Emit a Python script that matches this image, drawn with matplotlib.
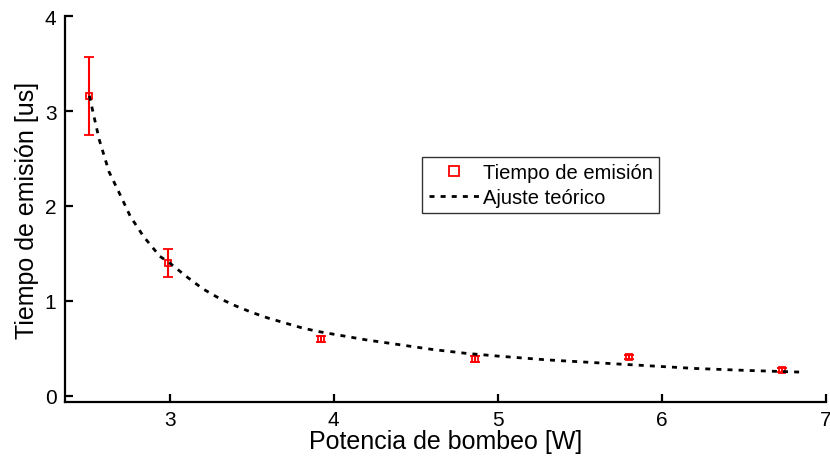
import matplotlib
matplotlib.use("Agg")
import matplotlib.pyplot as plt
from matplotlib.lines import Line2D

plt.rcParams["font.family"] = ["Liberation Sans", "DejaVu Sans"]

# measured points
potencia = [2.51, 2.99, 3.92, 4.86, 5.80, 6.73]
tiempo = [3.16, 1.40, 0.60, 0.39, 0.41, 0.27]
error = [0.41, 0.15, 0.03, 0.03, 0.02, 0.02]

# theoretical fit
ajuste_x = [2.51, 2.57, 2.63, 2.70, 2.76, 2.84, 2.94, 3.00, 3.10, 3.20,
            3.30, 3.40, 3.50, 3.60, 3.70, 3.80, 3.90, 4.00, 4.20, 4.40,
            4.60, 4.80, 5.00, 5.30, 5.60, 5.90, 6.20, 6.50, 6.87]
ajuste_y = [3.16, 2.70, 2.36, 2.11, 1.89, 1.68, 1.47, 1.40, 1.26, 1.13,
            1.03, 0.95, 0.88, 0.82, 0.77, 0.72, 0.68, 0.65, 0.59, 0.54,
            0.49, 0.45, 0.42, 0.38, 0.35, 0.32, 0.29, 0.27, 0.25]

fig = plt.figure(figsize=(8.3, 4.6), dpi=100)
ax = fig.add_axes([0.078, 0.124, 0.917, 0.839])

ax.errorbar(potencia, tiempo, yerr=error, fmt="s", color="red", mfc="none",
            mec="red", ms=5, mew=1.3, elinewidth=1.5, capsize=3.5, capthick=1.5,
            zorder=2)
ax.plot(ajuste_x, ajuste_y, color="black", ls="--", lw=2, dashes=(1.8, 2.2),
        zorder=3)

ax.set_xlim(2.36, 7)
ax.set_ylim(-0.063, 4)
ax.set_xticks([3, 4, 5, 6, 7])
ax.set_yticks([0, 1, 2, 3, 4])
ax.spines["top"].set_visible(False)
ax.spines["right"].set_visible(False)
for s in ("left", "bottom"):
    ax.spines[s].set_linewidth(1.6)
ax.tick_params(direction="in", length=6, width=1.6, labelsize=15, pad=6)
ax.set_xlabel("Potencia de bombeo [W]", fontsize=18, labelpad=0)
ax.set_ylabel("Tiempo de emisión [us]", fontsize=18, labelpad=4)

handles = [
    Line2D([], [], ls="none", marker="s", ms=7, mfc="none", mec="red", mew=1.3),
    Line2D([], [], color="black", ls="--", lw=2, dashes=(1.8, 2.2)),
]
labels = ["Tiempo de emisión", "Ajuste teórico"]
leg = ax.legend(handles, labels, loc="upper left", bbox_to_anchor=(0.470, 0.635),
                fontsize=14.5, frameon=True, fancybox=False, edgecolor="black",
                handlelength=2.5, borderpad=0.3, labelspacing=0.3,
                handletextpad=0.2, borderaxespad=0)
leg.get_frame().set_linewidth(1.0)

fig.savefig("out.png", dpi=100)
